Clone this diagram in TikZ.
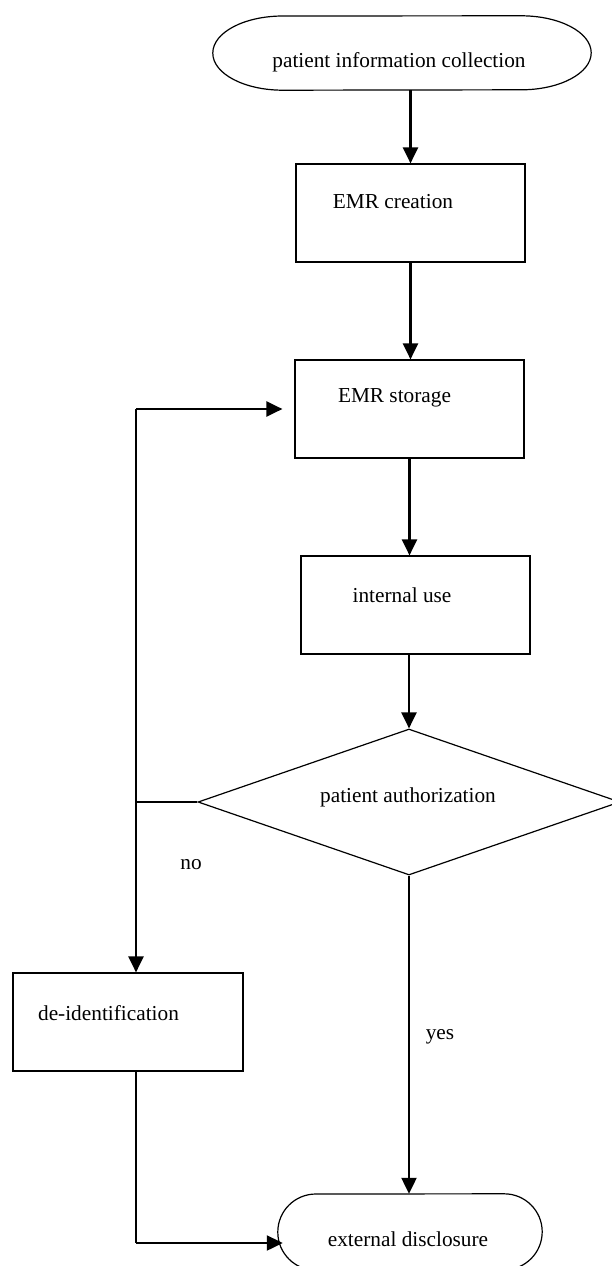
\documentclass[tikz,border=0pt]{standalone}
\usepackage{fontspec}
\setmainfont{Liberation Serif}
\usetikzlibrary{arrows.meta,shapes.geometric,calc}
\begin{document}
\begin{tikzpicture}[x=1pt,y=-1pt,
  box/.style={draw, line width=1.2pt, inner sep=0pt},
  lbl/.style={font=\fontsize{21.3}{24}\selectfont, inner sep=0pt},
  thinline/.style={line width=1.2pt},
  arr/.style={line width=2.2pt, -{Triangle[width=15pt,length=16pt]}},
  outline/.style={line width=1.2pt, line join=round}]
\useasboundingbox (0,0) rectangle (612,1266);
\clip (0,0) rectangle (612,1266);
\fill[white] (0,0) rectangle (612,1266);

% terminal: start
\node[inner sep=0pt, minimum width=378pt, minimum height=74pt] (start) at (402,53) {};
\draw[outline] (start.west)
  arc[start angle=180, end angle=270, x radius=70, y radius=37]
  -- ($(start.north east)+(-70,0)$)
  arc[start angle=-90, end angle=90, x radius=70, y radius=37]
  -- ($(start.south west)+(70,0)$)
  arc[start angle=90, end angle=180, x radius=70, y radius=37] -- cycle;
\node[lbl] (startT) at (399,62) {patient information collection};

% boxes
\node[box, minimum width=229pt, minimum height=98pt] (creation) at (410.5,213) {};
\node[lbl] (creationT) at (393,202) {EMR creation};
\node[box, minimum width=229pt, minimum height=98pt] (storage) at (409.5,409) {};
\node[lbl] (storageT) at (394.5,398) {EMR storage};
\node[box, minimum width=229pt, minimum height=98pt] (internal) at (415.5,605) {};
\node[lbl] (internalT) at (402,595) {internal use};

% decision
\node[draw, diamond, line width=1.2pt, inner sep=0pt, minimum width=422pt, minimum height=146pt] (dec) at (409,802) {};
\node[lbl] (decT) at (408,797) {patient authorization};

% de-identification
\node[box, minimum width=230pt, minimum height=98pt] (deid) at (128,1022) {};
\node[lbl] (deidT) at (108.5,1013) {de-identification};

% terminal: end
\node[inner sep=0pt, minimum width=264pt, minimum height=76pt] (ext) at (410,1232) {};
\draw[outline] (ext.west)
  arc[start angle=180, end angle=270, x radius=38, y radius=38]
  -- ($(ext.north east)+(-38,0)$)
  arc[start angle=-90, end angle=90, x radius=38, y radius=38]
  -- ($(ext.south west)+(38,0)$)
  arc[start angle=90, end angle=180, x radius=38, y radius=38] -- cycle;
\node[lbl] (extT) at (408,1239) {external disclosure};

% labels
\node[lbl] (noT) at (191,865) {no};
\node[lbl] (yesT) at (440,1037) {yes};

% connectors
\coordinate (J) at (136,802);
\coordinate (K) at (136,409);
\coordinate (L) at (136,1243);

\draw[arr] (start.south -| creation.north) -- (creation.north);
\draw[arr] (creation.south) -- (creation.south |- storage.north);
\draw[arr] (storage.south) -- (storage.south |- internal.north);
\draw[arr] (dec.north |- internal.south) -- (dec.north);

\draw[thinline] (dec.west) -- (J) -- (K);
\draw[arr, shorten >=12pt] (K) -- (storage.west);
\draw[arr] (J) -- (J |- deid.north);
\draw[thinline] (J |- deid.south) -- (L);
\draw[arr, shorten >=-5pt] (L) -- (ext.west |- L);
\draw[arr] (dec.south) -- (dec.south |- ext.north);
\end{tikzpicture}
\end{document}
